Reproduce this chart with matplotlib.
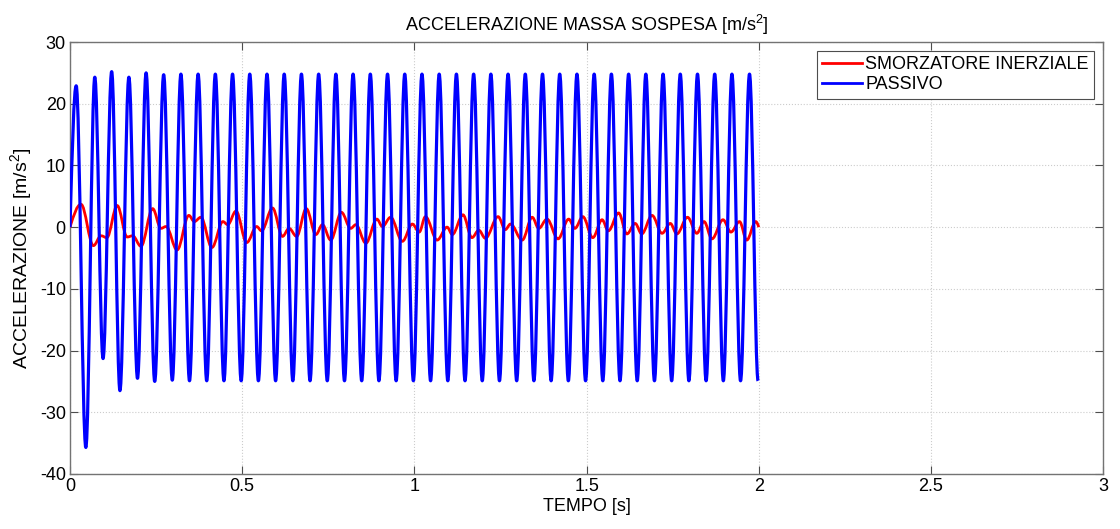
import numpy as np
import matplotlib
matplotlib.use("Agg")
import matplotlib.pyplot as plt
from matplotlib.path import Path
from matplotlib.patches import PathPatch
from matplotlib.lines import Line2D

plt.rcParams['font.family'] = ['Liberation Sans', 'DejaVu Sans']
plt.rcParams['mathtext.fontset'] = 'custom'
plt.rcParams['mathtext.rm'] = 'Liberation Sans'
plt.rcParams['mathtext.default'] = 'rm'
plt.rcParams['axes.unicode_minus'] = False

# ---- data ----
# PASSIVO (blue): times / values of the peaks and troughs
blue_peak_t = [0.018, 0.072, 0.121, 0.171, 0.221, 0.272, 0.322, 0.372, 0.422, 0.472,
               0.522, 0.572, 0.622, 0.672, 0.722, 0.772, 0.822, 0.872, 0.922, 0.972,
               1.022, 1.072, 1.122, 1.172, 1.222, 1.272, 1.322, 1.372, 1.422, 1.472,
               1.522, 1.572, 1.622, 1.672, 1.722, 1.772, 1.822, 1.872, 1.922, 1.973]
blue_peak_v = [22.9, 24.3, 25.2, 24.3, 25.0, 24.7, 24.8, 24.8, 24.8, 24.8,
               24.8, 24.8, 24.8, 24.8, 24.8, 24.8, 24.8, 24.8, 24.8, 24.8,
               24.8, 24.8, 24.8, 24.8, 24.8, 24.8, 24.8, 24.8, 24.8, 24.8,
               24.8, 24.8, 24.8, 24.8, 24.8, 24.8, 24.8, 24.8, 24.8, 24.8]
blue_trough_t = [0.046, 0.096, 0.145, 0.196, 0.246, 0.297, 0.347, 0.397, 0.447, 0.497,
                 0.547, 0.597, 0.647, 0.697, 0.747, 0.797, 0.847, 0.897, 0.947, 0.997,
                 1.047, 1.097, 1.147, 1.197, 1.247, 1.297, 1.347, 1.397, 1.447, 1.497,
                 1.547, 1.597, 1.647, 1.697, 1.747, 1.797, 1.847, 1.897, 1.947, 1.998]
blue_trough_v = [-35.7, -21.3, -26.5, -24.5, -25.0, -24.8, -24.9, -24.9, -24.9, -24.9,
                 -24.9, -24.9, -24.9, -24.9, -24.9, -24.9, -24.9, -24.9, -24.9, -24.9,
                 -24.9, -24.9, -24.9, -24.9, -24.9, -24.9, -24.9, -24.9, -24.9, -24.9,
                 -24.9, -24.9, -24.9, -24.9, -24.9, -24.9, -24.9, -24.9, -24.9, -24.9]

# SMORZATORE INERZIALE (red): turning points
red_t = [0.000, 0.032, 0.068, 0.090, 0.107, 0.137, 0.166, 0.182, 0.206, 0.240,
         0.264, 0.279, 0.311, 0.345, 0.361, 0.380, 0.412, 0.444, 0.458, 0.482,
         0.513, 0.542, 0.556, 0.588, 0.617, 0.636, 0.658, 0.686, 0.714, 0.733,
         0.757, 0.788, 0.815, 0.830, 0.859, 0.891, 0.907, 0.931, 0.965, 0.994,
         1.014, 1.032, 1.066, 1.095, 1.110, 1.141, 1.167, 1.187, 1.206, 1.243,
         1.264, 1.279, 1.313, 1.342, 1.361, 1.385, 1.417, 1.448, 1.466, 1.489,
         1.518, 1.545, 1.563, 1.593, 1.617, 1.641, 1.660, 1.690, 1.719, 1.743,
         1.762, 1.793, 1.820, 1.841, 1.864, 1.896, 1.919, 1.944, 1.965, 1.991,
         2.000]
red_v = [0.0, 3.7, -3.0, -1.4, -1.7, 3.5, -1.6, -1.4, -3.1, 3.0,
         -0.2, 0.1, -3.7, 1.9, 0.9, 1.6, -3.3, 0.9, 0.4, 2.6,
         -2.5, 0.1, -0.6, 3.1, -1.5, -0.2, -1.5, 3.0, -1.2, 0.4,
         -2.1, 2.4, -0.2, 0.4, -2.6, 1.3, 0.1, 1.6, -2.3, 0.5,
         -0.8, 1.7, -2.1, 0.0, -1.2, 2.0, -1.7, -0.5, -1.8, 1.7,
         -0.4, 0.5, -2.1, 1.6, -0.2, 1.3, -1.9, 1.3, -0.2, 1.7,
         -1.7, 1.2, -0.6, 2.3, -1.1, 0.6, -1.1, 1.9, -1.0, 0.6,
         -1.1, 1.6, -1.0, 0.9, -1.9, 1.2, -0.8, 0.9, -2.1, 0.9,
         0.0]

x_ticks = [0, 0.5, 1, 1.5, 2, 2.5, 3]
x_tick_labels = ['0', '0.5', '1', '1.5', '2', '2.5', '3']
y_ticks = [-40, -30, -20, -10, 0, 10, 20, 30]


def smooth_path(t, v, start_free=True, end_free=False):
    # smooth curve through turning points (horizontal tangent at each extremum)
    k = 0.36
    verts = [(t[0], v[0])]
    codes = [Path.MOVETO]
    n = len(t)
    for i in range(n - 1):
        dt = t[i + 1] - t[i]
        dv = v[i + 1] - v[i]
        c1 = (t[i] + k * dt, v[i])
        c2 = (t[i + 1] - k * dt, v[i + 1])
        if i == 0 and start_free:
            c1 = (t[i] + k * dt, v[i] + 0.55 * dv)
        if i == n - 2 and end_free:
            c2 = (t[i + 1] - k * dt, v[i + 1] - 0.55 * dv)
        verts += [c1, c2, (t[i + 1], v[i + 1])]
        codes += [Path.CURVE4] * 3
    return Path(verts, codes)


blue_t = [0.0]
blue_v = [0.0]
for pt, pv, tt, tv in zip(blue_peak_t, blue_peak_v, blue_trough_t, blue_trough_v):
    blue_t += [pt, tt]
    blue_v += [pv, tv]

fig = plt.figure(figsize=(11.2, 5.29), dpi=100)
ax = fig.add_axes([0.0625, 0.104, 0.9225, 0.8166])

red_patch = PathPatch(smooth_path(red_t, red_v, True, True), facecolor='none',
                      edgecolor=(1, 0, 0), lw=2.0, joinstyle='round', zorder=3)
blue_patch = PathPatch(smooth_path(blue_t, blue_v, True, False), facecolor='none',
                       edgecolor=(0, 0, 1), lw=2.3, joinstyle='round', zorder=4)
ax.add_patch(red_patch)
ax.add_patch(blue_patch)

ax.set_xlim(0, 3)
ax.set_ylim(-40, 30)
ax.set_xticks(x_ticks)
ax.set_xticklabels(x_tick_labels)
ax.set_yticks(y_ticks)
ax.grid(True, linestyle=':', color='0.8', lw=0.8)
ax.tick_params(direction='in', top=True, right=True, length=6, width=0.8,
               labelsize=13, color='0.3', pad=3)
for s in ax.spines.values():
    s.set_color('0.45')
    s.set_linewidth(1.0)

ax.set_title('ACCELERAZIONE MASSA SOSPESA [m/s$^2$]', fontsize=13, pad=8)
ax.set_xlabel('TEMPO [s]', fontsize=13, labelpad=2)
ax.set_ylabel('ACCELERAZIONE [m/s$^2$]', fontsize=14, labelpad=4)

handles = [Line2D([], [], color=(1, 0, 0), lw=2.0),
           Line2D([], [], color=(0, 0, 1), lw=2.0)]
leg = ax.legend(handles, ['SMORZATORE INERZIALE', 'PASSIVO'], loc='upper right',
                fontsize=13, fancybox=False, framealpha=1, edgecolor='0.3',
                handlelength=2.2, handletextpad=0.2, borderaxespad=0.5,
                labelspacing=0.15, borderpad=0.3)
leg.get_frame().set_linewidth(0.8)
leg.set_zorder(10)

fig.savefig('out.png', dpi=100)
